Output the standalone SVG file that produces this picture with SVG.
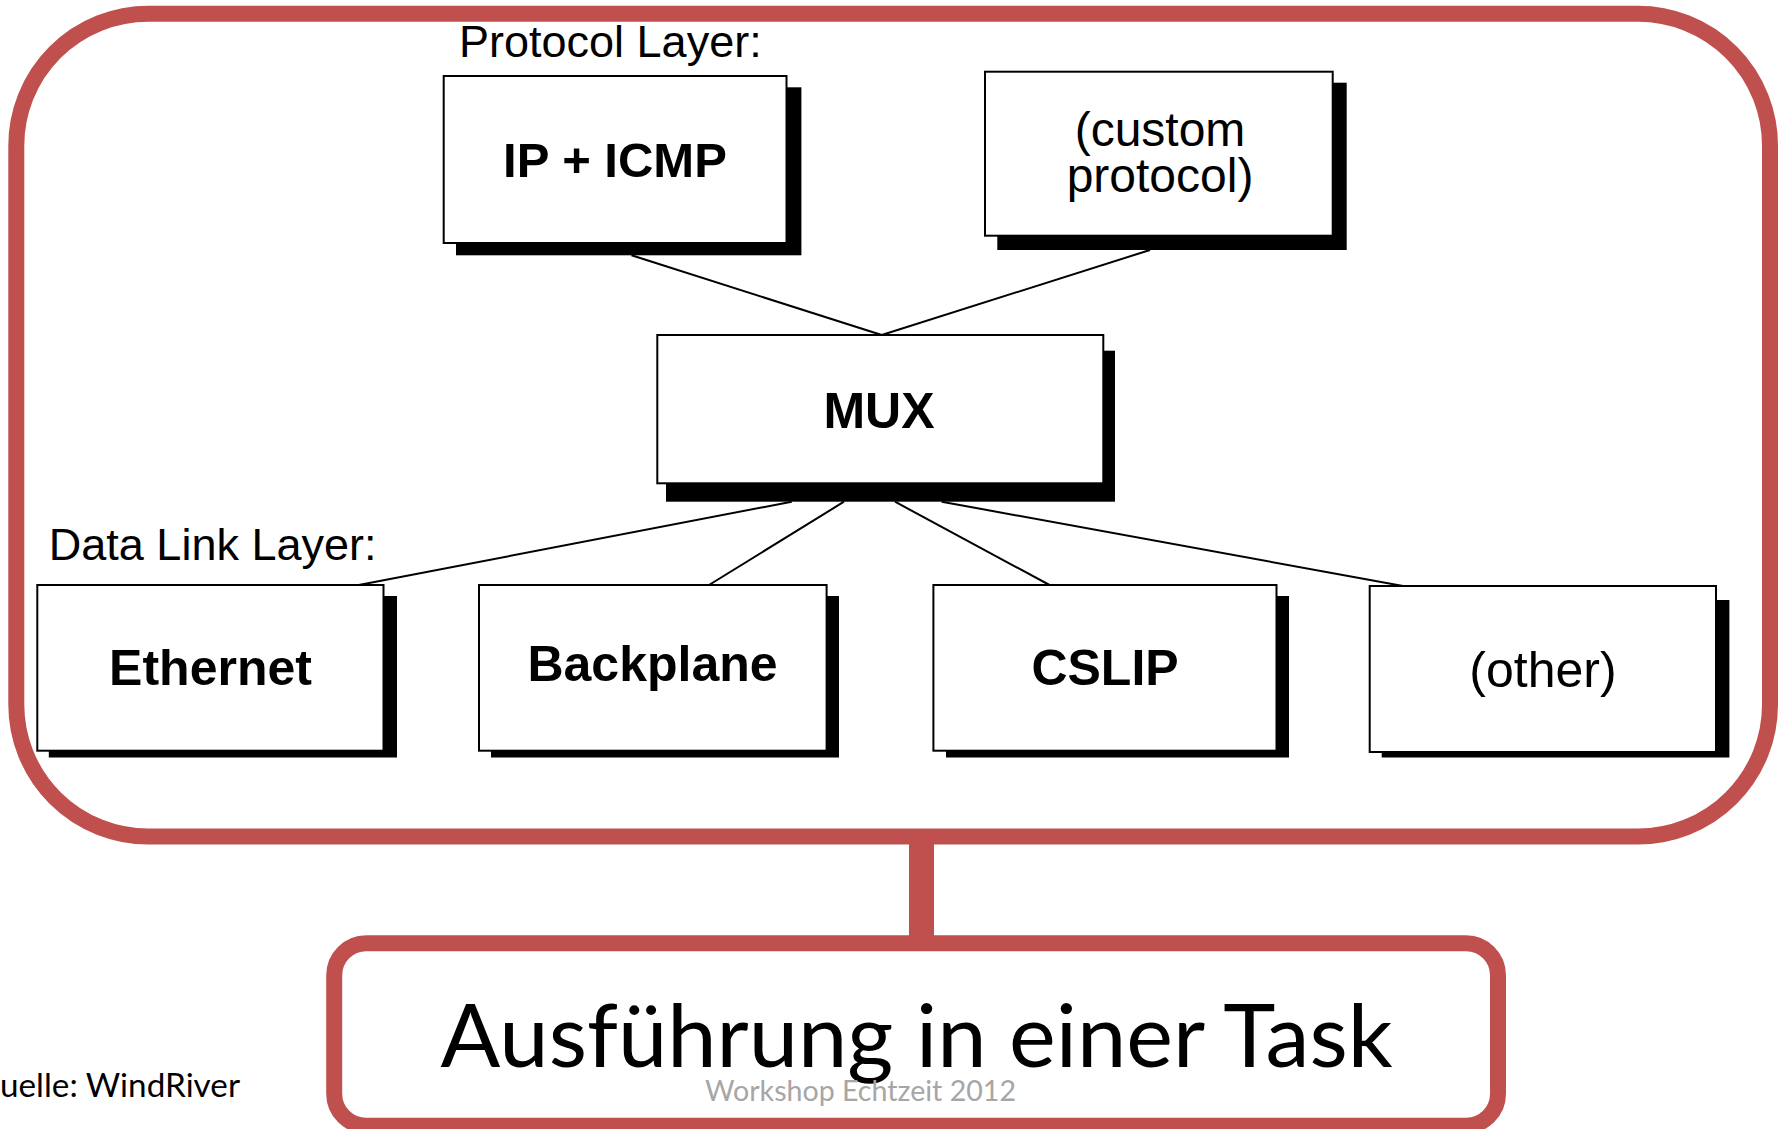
<svg xmlns="http://www.w3.org/2000/svg" width="1781" height="1129" viewBox="0 0 1781 1129">
  <style>
    .frame { fill: none; stroke: #C0504D; stroke-width: 16; }
    .box { fill: #ffffff; stroke: #000000; stroke-width: 2; }
    .shadow { fill: #000000; }
    .link { stroke: #000000; stroke-width: 2; fill: none; }
    .bar { stroke: #C0504D; stroke-width: 25; }
    .hb { font-family: "Liberation Sans", Arial, sans-serif; font-weight: bold; font-size: 50px; fill: #000; text-anchor: middle; }
    .hn { font-family: "Liberation Sans", Arial, sans-serif; font-size: 50px; fill: #000; text-anchor: middle; }
    .lbl { font-family: "Liberation Sans", Arial, sans-serif; font-size: 45px; fill: #000; }
    .cal { font-family: Lato, "Open Sans", sans-serif; fill: #000; }
  </style>

  <rect width="1781" height="1129" fill="#ffffff"/>

  <!-- outer container of the network stack -->
  <g id="stack-frame">
    <rect class="frame" x="16.3" y="13.7" width="1753.7" height="822.8" rx="132" ry="132"/>
  </g>

  <!-- connectors -->
  <g id="connectors">
    <line class="link" x1="631.5" y1="255.3" x2="881.7" y2="335"/>
    <line class="link" x1="1150" y1="250" x2="881.7" y2="335"/>
    <line class="link" x1="791.7" y1="501.7" x2="358.8" y2="585"/>
    <line class="link" x1="844" y1="501.7" x2="709" y2="585"/>
    <line class="link" x1="895" y1="501.7" x2="1049.5" y2="585"/>
    <line class="link" x1="941.7" y1="501.7" x2="1403" y2="586"/>
    <line class="bar" x1="921.5" y1="836" x2="921.5" y2="944"/>
  </g>

  <text class="lbl" x="459" y="56.7">Protocol Layer:</text>
  <text class="lbl" x="48.8" y="560">Data Link Layer:</text>

  <g id="ip-icmp">
    <rect class="shadow" x="456" y="87.3" width="345.4" height="168"/>
    <rect class="box" x="443.7" y="76" width="342.8" height="167"/>
    <text class="hb" x="615" y="176.7" style="font-size:49px">IP + ICMP</text>
  </g>

  <g id="custom-protocol">
    <rect class="shadow" x="997.3" y="82.7" width="349.4" height="167.3"/>
    <rect class="box" x="985" y="71.7" width="347.7" height="164"/>
    <text class="hn" x="1160" y="146" style="font-size:48px">(custom</text>
    <text class="hn" x="1160" y="192" style="font-size:48px">protocol)</text>
  </g>

  <g id="mux">
    <rect class="shadow" x="666" y="350.7" width="449" height="151"/>
    <rect class="box" x="657.3" y="335" width="446" height="148.3"/>
    <text class="hb" x="879" y="428.3">MUX</text>
  </g>

  <g id="ethernet">
    <rect class="shadow" x="48.8" y="596" width="348.2" height="161.5"/>
    <rect class="box" x="37.3" y="585" width="346.2" height="165.7"/>
    <text class="hb" x="210.5" y="685.3">Ethernet</text>
  </g>

  <g id="backplane">
    <rect class="shadow" x="491" y="596" width="348" height="161.5"/>
    <rect class="box" x="479" y="585" width="347.6" height="165.7"/>
    <text class="hb" x="652.5" y="680.5">Backplane</text>
  </g>

  <g id="cslip">
    <rect class="shadow" x="946" y="596" width="343" height="161.5"/>
    <rect class="box" x="933.4" y="585" width="343.1" height="165.7"/>
    <text class="hb" x="1105" y="685.3">CSLIP</text>
  </g>

  <g id="other">
    <rect class="shadow" x="1381.7" y="600" width="347.7" height="157.5"/>
    <rect class="box" x="1369.7" y="586" width="346.3" height="166"/>
    <text class="hn" x="1543" y="686.5">(other)</text>
  </g>

  <!-- execution context -->
  <g id="task-box">
    <rect class="frame" x="334.2" y="943.3" width="1163.8" height="182.4" rx="32" ry="32"/>
    <text class="cal" x="440.6" y="1067.3" font-size="88" textLength="952" lengthAdjust="spacingAndGlyphs">Ausführung in einer Task</text>
  </g>

  <text class="cal" x="0" y="1096.7" font-size="33" textLength="240" lengthAdjust="spacingAndGlyphs">uelle: WindRiver</text>
  <text class="cal" x="705" y="1101" font-size="29" fill="#A6A6A6" style="fill:#A6A6A6" textLength="311" lengthAdjust="spacingAndGlyphs">Workshop Echtzeit 2012</text>
</svg>
